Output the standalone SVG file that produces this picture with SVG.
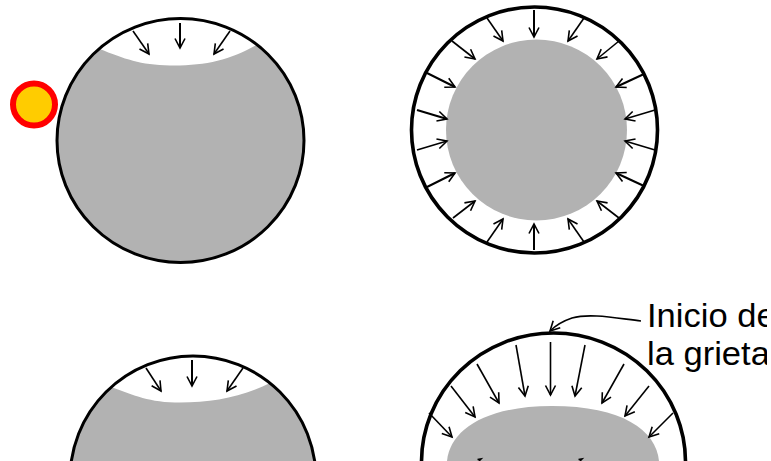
<svg xmlns="http://www.w3.org/2000/svg" width="771" height="461" viewBox="0 0 771 461">
<defs>
<marker id="a" markerUnits="userSpaceOnUse" markerWidth="16" markerHeight="16" refX="11" refY="8" orient="auto"><path d="M1.500 3L11 8L1.500 13" fill="none" stroke="#000" stroke-width="1.6"/></marker>
</defs>
<style>
.g{fill:#b2b2b2}
.o{fill:none;stroke:#000;stroke-width:3}
.t{stroke-width:3.600}
.c path,.c line{fill:none;stroke:#000;stroke-width:1.600;marker-end:url(#a)}
.c .n{marker-end:none}
.c .b{stroke-width:2}
text{font-family:"Liberation Sans",Arial,sans-serif;font-size:32px;fill:#000}
</style>
<rect width="771" height="461" fill="#fff"/>
<g id="heat-source"><circle cx="34" cy="104.500" r="21" fill="#fc0" stroke="#f00" stroke-width="6"/></g>
<g id="sphere-1">
<path class="g" d="M99 48.800C125 59 140 65 170 65.500C205 66 230 60 257 44.700A123.500 122 0 1 1 99 48.800Z"/>
<ellipse class="o" cx="180.500" cy="140.500" rx="123.500" ry="122"/>
</g>
<g id="sphere-2">
<circle class="g" cx="536.500" cy="130" r="90.500"/>
<circle class="o t" cx="534.500" cy="130" r="123"/>
</g>
<g id="sphere-3">
<path class="g" d="M111 387.300C130 393 145 402 175 402.500C210 403 240 398 270 383.100A123 123 0 0 1 314.700 461H71.300A123 123 0 0 1 111 387.300Z"/>
<circle class="o" cx="193" cy="479" r="123"/>
</g>
<g id="sphere-4">
<path class="g" d="M447 461C450 430 485 406 552 406C622 406 656 430 659 461Z"/>
<ellipse class="o t" cx="553.500" cy="462" rx="132" ry="129"/>
</g>
<g id="connectors" class="c">
<line x1="133" y1="31" x2="149" y2="54"/><line class="b" x1="180" y1="23" x2="180" y2="48"/><line x1="230" y1="31" x2="214" y2="54"/>
<line class="b" x1="534" y1="10" x2="534" y2="37"/><line x1="487" y1="18" x2="503" y2="41"/><line x1="452" y1="41" x2="475" y2="59"/><line class="b" x1="427" y1="73" x2="455" y2="87"/><line class="b" x1="417" y1="110" x2="447" y2="119"/><line x1="417" y1="150" x2="447" y2="141"/><line class="b" x1="427" y1="187" x2="455" y2="173"/><line x1="453" y1="218" x2="475" y2="201"/><line x1="487" y1="242" x2="503" y2="219"/><line class="b" x1="534" y1="250" x2="534" y2="224"/><line x1="584" y1="242" x2="568" y2="219"/><line x1="619" y1="218" x2="597" y2="201"/><line class="b" x1="644" y1="186" x2="616" y2="173"/><line x1="655" y1="150" x2="625" y2="141"/><line x1="655" y1="110" x2="625" y2="119"/><line class="b" x1="644" y1="74" x2="616" y2="87"/><line x1="619" y1="41" x2="597" y2="59"/><line x1="584" y1="18" x2="568" y2="41"/>
<line x1="146" y1="368" x2="161" y2="391"/><line class="b" x1="192" y1="360" x2="192" y2="386"/><line x1="243" y1="368" x2="227" y2="391"/>
<line x1="550.500" y1="342" x2="550.500" y2="395"/><line x1="516" y1="345" x2="525" y2="396"/><line x1="585" y1="345" x2="575" y2="396"/><line x1="477" y1="364" x2="499" y2="403"/><line x1="624" y1="364" x2="602" y2="403"/><line x1="451" y1="386" x2="475" y2="417"/><line x1="649" y1="386" x2="625" y2="416"/><line x1="429" y1="413" x2="452" y2="437"/><line x1="673" y1="413" x2="649" y2="437"/>
<path d="M641 321C615 318 590 313 572 318C563 321 556 325 550 331"/>
<path class="n" d="M477.500 459.500L481 459L479 461"/><path class="n" d="M578.500 459.500L582 459L580 461"/>
</g>
<text transform="translate(647 327) scale(1.080 1.030)">Inicio de</text>
<text transform="translate(647 365) scale(1.080 1.030)">la grieta</text>
<rect x="767" y="295" width="4" height="80" fill="#fff"/>
</svg>
